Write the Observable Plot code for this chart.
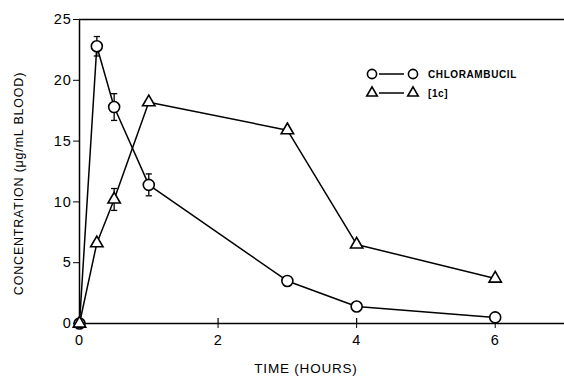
<!DOCTYPE html>
<html>
<head>
<meta charset="utf-8">
<script src="https://cdn.jsdelivr.net/npm/d3@7"></script>
<script src="https://cdn.jsdelivr.net/npm/@observablehq/plot@0.6"></script>
<style>
  html, body { margin: 0; padding: 0; background: #fff; }
  #wrap { position: relative; width: 564px; height: 378px; font-family: "Liberation Sans", Arial, sans-serif; }
  #legend { position: absolute; left: 360px; top: 62px; }
  #wrap svg text { letter-spacing: 0.8px; }
</style>
</head>
<body>
<div id="wrap"></div>
<script>
const times = [0, 0.25, 0.5, 1, 3, 4, 6];
const chlorambucil = [0, 22.8, 17.8, 11.4, 3.5, 1.4, 0.5];
const chlorErr = [0, 0.8, 1.1, 0.9, 0, 0, 0];
const compound1c = [0, 6.6, 10.2, 18.2, 15.9, 6.5, 3.7];
const c1cErr = [0, 0, 0.9, 0, 0, 0, 0];
const xTicks = [0, 2, 4, 6];
const yTicks = [0, 5, 10, 15, 20, 25];
const seriesNames = ["CHLORAMBUCIL", "[1c]"];
const xLabel = "TIME (HOURS)";
const yLabel = "CONCENTRATION (μg/mL BLOOD)";

const rows = [];
times.forEach((t, i) => {
  rows.push({t, v: chlorambucil[i], e: chlorErr[i], s: seriesNames[0], sym: "circle", r: 5.5});
});
times.forEach((t, i) => {
  rows.push({t, v: compound1c[i], e: c1cErr[i], s: seriesNames[1], sym: "triangle", r: 4.6});
});
const errRows = rows.filter(d => d.e > 0);
const capRows = errRows.flatMap(d => [{t: d.t, v: d.v + d.e}, {t: d.t, v: d.v - d.e}]);

const capSymbol = {
  draw(context, size) {
    const w = Math.sqrt(size) / 2;
    context.moveTo(-w, 0);
    context.lineTo(w, 0);
  }
};

const chart = Plot.plot({
  width: 564,
  height: 378,
  marginLeft: 79,
  marginTop: 19,
  marginBottom: 55,
  marginRight: 0,
  style: {fontFamily: "Liberation Sans, Arial, sans-serif", fontSize: "14.5px", color: "#000", background: "#fff"},
  x: {type: "linear", domain: [0, 7]},
  y: {type: "linear", domain: [0, 25]},
  r: {type: "identity"},
  marks: [
    Plot.axisX({ticks: xTicks, tickSize: 5, tickPadding: 6, tickFormat: "d", label: null}),
    Plot.ruleX(xTicks.slice(1), {y1: 0, y2: 0, insetTop: -5, stroke: "#000", strokeWidth: 1.2}),
    Plot.axisY({ticks: yTicks, tickSize: 6, tickPadding: 2, tickFormat: "d", label: null}),
    Plot.text([xLabel], {frameAnchor: "bottom", dy: 49, dx: -16, fontSize: 13.5, text: d => d}),
    Plot.text([yLabel], {frameAnchor: "left", textAnchor: "middle", dx: -61, dy: 12, rotate: -90, fontSize: 12.5, text: d => d}),
    Plot.ruleY([25], {stroke: "#000", strokeWidth: 1.5}),
    Plot.ruleY([0], {stroke: "#000", strokeWidth: 1.5}),
    Plot.ruleX([0], {stroke: "#000", strokeWidth: 1.5}),
    Plot.ruleX(errRows, {x: "t", y1: d => d.v - d.e, y2: d => d.v + d.e, stroke: "#000", strokeWidth: 1.3}),
    Plot.dot(capRows, {x: "t", y: "v", symbol: capSymbol, r: 3.5, stroke: "#000", fill: "none", strokeWidth: 1.3}),
    Plot.line(rows, {x: "t", y: "v", z: "s", stroke: "#000", strokeWidth: 1.5}),
    Plot.dot(rows, {x: "t", y: "v", symbol: "sym", r: "r", stroke: "#000", fill: "#fff", strokeWidth: 1.6})
  ]
});
document.getElementById("wrap").appendChild(chart);

const legendData = [{name: seriesNames[0], sym: d3.symbolCircle, size: 66}, {name: seriesNames[1], sym: d3.symbolTriangle, size: 48}];
const leg = d3.select("#wrap").append("div").attr("id", "legend")
  .append("svg").attr("width", 170).attr("height", 40);
legendData.forEach((d, i) => {
  const g = leg.append("g").attr("transform", `translate(0,${12 + i * 19})`);
  g.append("line").attr("x1", 19).attr("x2", 44).attr("stroke", "#000").attr("stroke-width", 1.5);
  [12, 53].forEach(x => g.append("path").attr("d", d3.symbol(d.sym, d.size)()).attr("transform", `translate(${x},0)`)
    .attr("fill", "#fff").attr("stroke", "#000").attr("stroke-width", 1.6));
  g.append("text").attr("x", 68).attr("y", 4).text(d.name)
    .style("font-family", "Liberation Sans, Arial, sans-serif").style("font-size", "10px").style("font-weight", "bold")
    .style("letter-spacing", "0.6px");
});
</script>
</body>
</html>
